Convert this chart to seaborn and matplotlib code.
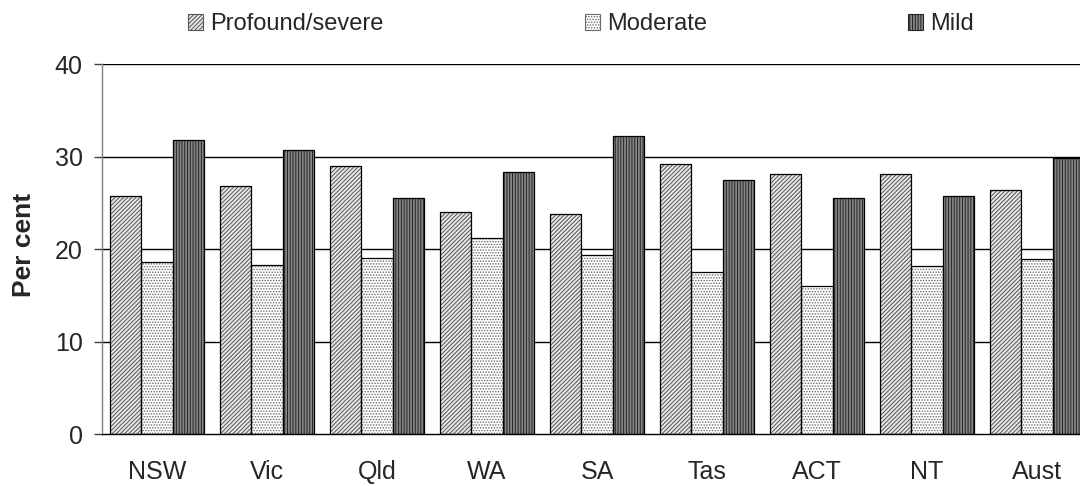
import matplotlib
matplotlib.use("Agg")
import matplotlib.pyplot as plt
from matplotlib.patches import Patch, Rectangle
import seaborn as sns
import pandas as pd
import numpy as np

states = ["NSW", "Vic", "Qld", "WA", "SA", "Tas", "ACT", "NT", "Aust"]
severity = ["Profound/severe", "Moderate", "Mild"]
profound = [25.7, 26.8, 29.0, 24.0, 23.8, 29.2, 28.1, 28.1, 26.4]
moderate = [18.6, 18.3, 19.0, 21.2, 19.3, 17.5, 16.0, 18.2, 18.9]
mild = [31.8, 30.7, 25.5, 28.3, 32.2, 27.5, 25.5, 25.7, 29.8]
yticks = [0, 10, 20, 30, 40]

sns.set_style("white")
plt.rcParams["font.family"] = ["Liberation Sans", "DejaVu Sans"]
plt.rcParams["hatch.linewidth"] = 0.7

df = pd.DataFrame({
    "State": states * 3,
    "Severity": [severity[0]] * 9 + [severity[1]] * 9 + [severity[2]] * 9,
    "Value": profound + moderate + mild,
})

faces = {"Profound/severe": "#e6e6e6", "Moderate": "#ffffff", "Mild": "#858585"}
hatches = {"Profound/severe": "////////", "Moderate": "......", "Mild": "||||||"}
hatch_cols = {"Profound/severe": "#555555", "Moderate": "#6a6a6a", "Mild": "#252525"}

fig = plt.figure(figsize=(10.8, 4.86), dpi=100)
ax = fig.add_axes([102 / 1080, 52 / 486, 990 / 1080, 370 / 486])

sns.barplot(data=df, x="State", y="Value", hue="Severity", order=states,
            hue_order=severity, palette=faces, width=0.86, edgecolor="black",
            linewidth=0.8, saturation=1, legend=False, ax=ax, zorder=3)

for cont, sev in zip(ax.containers, severity):
    for p in cont:
        p.set_hatch(hatches[sev])
        p.set_facecolor(faces[sev])
        p.set_edgecolor(hatch_cols[sev])
        p.set_linewidth(0)
        ax.add_patch(Rectangle(p.get_xy(), p.get_width(), p.get_height(),
                               fill=False, edgecolor="black", linewidth=0.9, zorder=4))

ax.set_ylim(0, 40)
ax.set_xlim(-0.5, len(states) - 0.5)
ax.set_yticks(yticks)
ax.set_yticklabels([str(v) for v in yticks], fontsize=18)
ax.set_xticks(range(len(states)))
ax.set_xticklabels(states, fontsize=18)
ax.set_xticks(np.arange(-0.5, len(states), 1.0), minor=True)
ax.tick_params(axis="x", which="major", length=0, pad=19)
ax.tick_params(axis="x", which="minor", length=7, width=1, color="#808080", direction="out")
ax.tick_params(axis="y", length=6, width=1, color="#404040", direction="out", pad=8, left=True)
ax.set_xlabel("")

for y in yticks[1:]:
    ax.axhline(y, color="black", linewidth=1, zorder=1)

for side in ["top", "right"]:
    ax.spines[side].set_visible(False)
ax.spines["left"].set_color("#808080")
ax.spines["left"].set_linewidth(1)
ax.spines["bottom"].set_color("black")
ax.spines["bottom"].set_linewidth(1)
ax.spines["bottom"].set_zorder(5)

ax.set_ylabel("Per cent", fontsize=19, fontweight="bold")
ax.yaxis.set_label_coords(-0.067, 0.51)

handles = [Patch(facecolor=faces[s], edgecolor=hatch_cols[s], hatch=hatches[s], linewidth=0.8)
           for s in severity]
fig.legend(handles, severity, loc="center", bbox_to_anchor=(581 / 1080, 1 - 24 / 486),
           ncol=3, frameon=False, fontsize=17, handlelength=0.65, handleheight=0.65,
           handletextpad=0.3, columnspacing=8.5, borderpad=0)

fig.savefig("out.png", dpi=100)
